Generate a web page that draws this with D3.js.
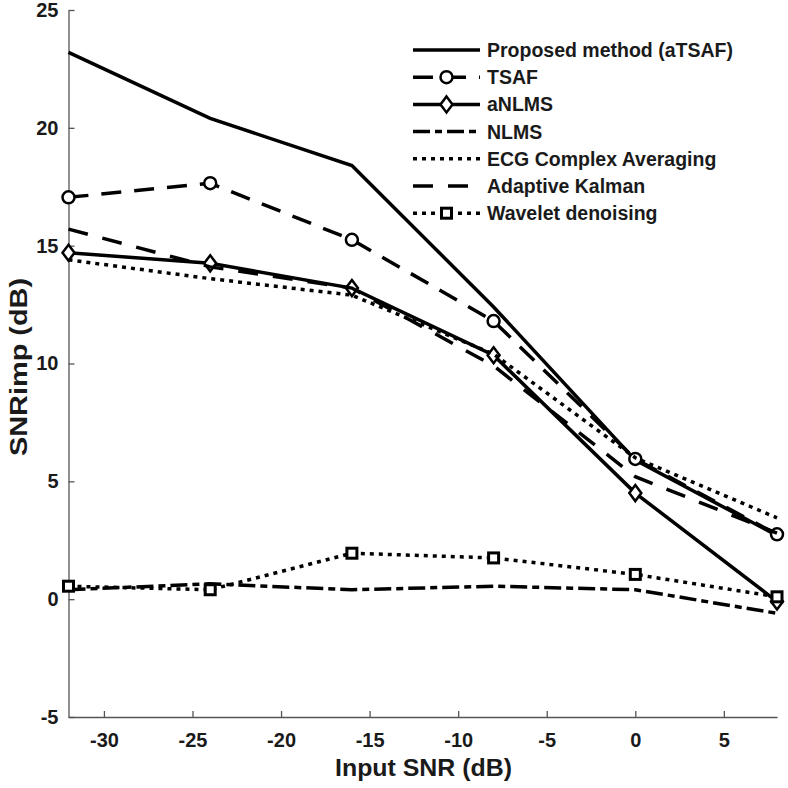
<!DOCTYPE html>
<html>
<head>
<meta charset="utf-8">
<script src="https://cdn.jsdelivr.net/npm/d3@7"></script>
<style>
  body { margin: 0; background: #fff; }
  text { font-family: Arial, "Liberation Sans", sans-serif; font-weight: bold; }
</style>
</head>
<body>
<svg width="788" height="788"></svg>
<script>
// input SNR levels (dB)
var inputSNR = [-32, -24, -16, -8, 0, 8];

// SNR improvement per method (dB)
var proposed = [23.2, 20.4, 18.4, 12.4, 5.9, 2.7];
var tsaf = [17.05, 17.65, 15.25, 11.8, 5.95, 2.75];
var anlms = [14.7, 14.25, 13.2, 10.35, 4.5, -0.1];
var nlms = [0.4, 0.65, 0.4, 0.55, 0.4, -0.6];
var ecgAvg = [14.4, 13.6, 12.9, 10.4, 6.0, 3.45];
var kalman = [15.7, 14.1, 13.2, 9.9, 5.2, 2.8];
var wavelet = [0.55, 0.4, 1.95, 1.75, 1.05, 0.1];

var xTicks = [-30, -25, -20, -15, -10, -5, 0, 5];
var yTicks = [-5, 0, 5, 10, 15, 20, 25];

var series = [
    { name: "Proposed method (aTSAF)", values: proposed, dash: null, marker: null },
    { name: "TSAF", values: tsaf, dash: "20,13", marker: "circle" },
    { name: "aNLMS", values: anlms, dash: null, marker: "diamond" },
    { name: "NLMS", values: nlms, dash: "17,5,7,5", marker: null },
    { name: "ECG Complex Averaging", values: ecgAvg, dash: "4,5", marker: null },
    { name: "Adaptive Kalman", values: kalman, dash: "20,15", marker: null },
    { name: "Wavelet denoising", values: wavelet, dash: "4,5", marker: "square" }
];

var svg = d3.select("svg");

var x = d3.scaleLinear().domain([-32, 8]).range([68.5, 777]);
var y = d3.scaleLinear().domain([-5, 25]).range([717, 10]);

// axes (ticks point inward, like matlab), plain hyphen minus in labels
var fmt = function(d) { return String(d); };
var xAxis = svg.append("g")
    .attr("transform", "translate(0," + y(-5) + ")")
    .call(d3.axisBottom(x).tickValues(xTicks).tickFormat(fmt).tickSizeInner(-6).tickSizeOuter(0).tickPadding(16));
var yAxis = svg.append("g")
    .attr("transform", "translate(" + x(-32) + ",0)")
    .call(d3.axisLeft(y).tickValues(yTicks).tickFormat(fmt).tickSizeInner(-6).tickSizeOuter(0).tickPadding(10));

[xAxis, yAxis].forEach(function(a) {
    a.select(".domain").attr("stroke", "#555").attr("stroke-width", 1.3);
    a.selectAll(".tick line").attr("stroke", "#555").attr("stroke-width", 1.3);
    a.selectAll(".tick text").attr("fill", "#1a1a1a").style("font-size", "20px").style("font-family", "Arial, 'Liberation Sans', sans-serif");
});

svg.append("text")
    .attr("x", 423.5)
    .attr("y", 776)
    .attr("text-anchor", "middle")
    .attr("textLength", 177)
    .attr("lengthAdjust", "spacingAndGlyphs")
    .style("font-size", "24px")
    .attr("fill", "#1a1a1a")
    .text("Input SNR (dB)");

svg.append("text")
    .attr("transform", "translate(27,367) rotate(-90)")
    .attr("text-anchor", "middle")
    .attr("textLength", 178)
    .attr("lengthAdjust", "spacingAndGlyphs")
    .style("font-size", "24px")
    .attr("fill", "#1a1a1a")
    .text("SNRimp (dB)");

var line = d3.line()
    .x(function(d, i) { return x(inputSNR[i]); })
    .y(function(d) { return y(d); });

function drawMarker(g, type, cx, cy) {
    if (type == "circle") {
        g.append("circle").attr("cx", cx).attr("cy", cy).attr("r", 6)
            .attr("fill", "#fff").attr("stroke", "#000").attr("stroke-width", 2.5);
    } else if (type == "diamond") {
        g.append("path")
            .attr("d", "M" + cx + "," + (cy - 8) + "L" + (cx + 6) + "," + cy + "L" + cx + "," + (cy + 8) + "L" + (cx - 6) + "," + cy + "Z")
            .attr("fill", "#fff").attr("stroke", "#000").attr("stroke-width", 2.5);
    } else if (type == "square") {
        g.append("rect").attr("x", cx - 5).attr("y", cy - 5).attr("width", 10).attr("height", 10)
            .attr("fill", "#fff").attr("stroke", "#000").attr("stroke-width", 3);
    }
}

var plot = svg.append("g");
series.forEach(function(s) {
    plot.append("path")
        .attr("d", line(s.values))
        .attr("fill", "none")
        .attr("stroke", "#000")
        .attr("stroke-width", 3.5)
        .attr("stroke-dasharray", s.dash);
    if (s.marker) {
        s.values.forEach(function(v, i) {
            drawMarker(plot, s.marker, x(inputSNR[i]), y(v));
        });
    }
});

// legend
var legend = svg.append("g").attr("transform", "translate(413,50)");
series.forEach(function(s, i) {
    var row = legend.append("g").attr("transform", "translate(0," + (i * 27.2) + ")");
    row.append("line")
        .attr("x1", 0).attr("x2", 67).attr("y1", 0).attr("y2", 0)
        .attr("stroke", "#000").attr("stroke-width", 3.5)
        .attr("stroke-dasharray", s.dash);
    if (s.marker) drawMarker(row, s.marker, 33.5, 0);
    row.append("text")
        .attr("x", 74).attr("y", 7)
        .style("font-size", "19.5px")
        .attr("fill", "#1a1a1a")
        .text(s.name);
});
</script>
</body>
</html>
